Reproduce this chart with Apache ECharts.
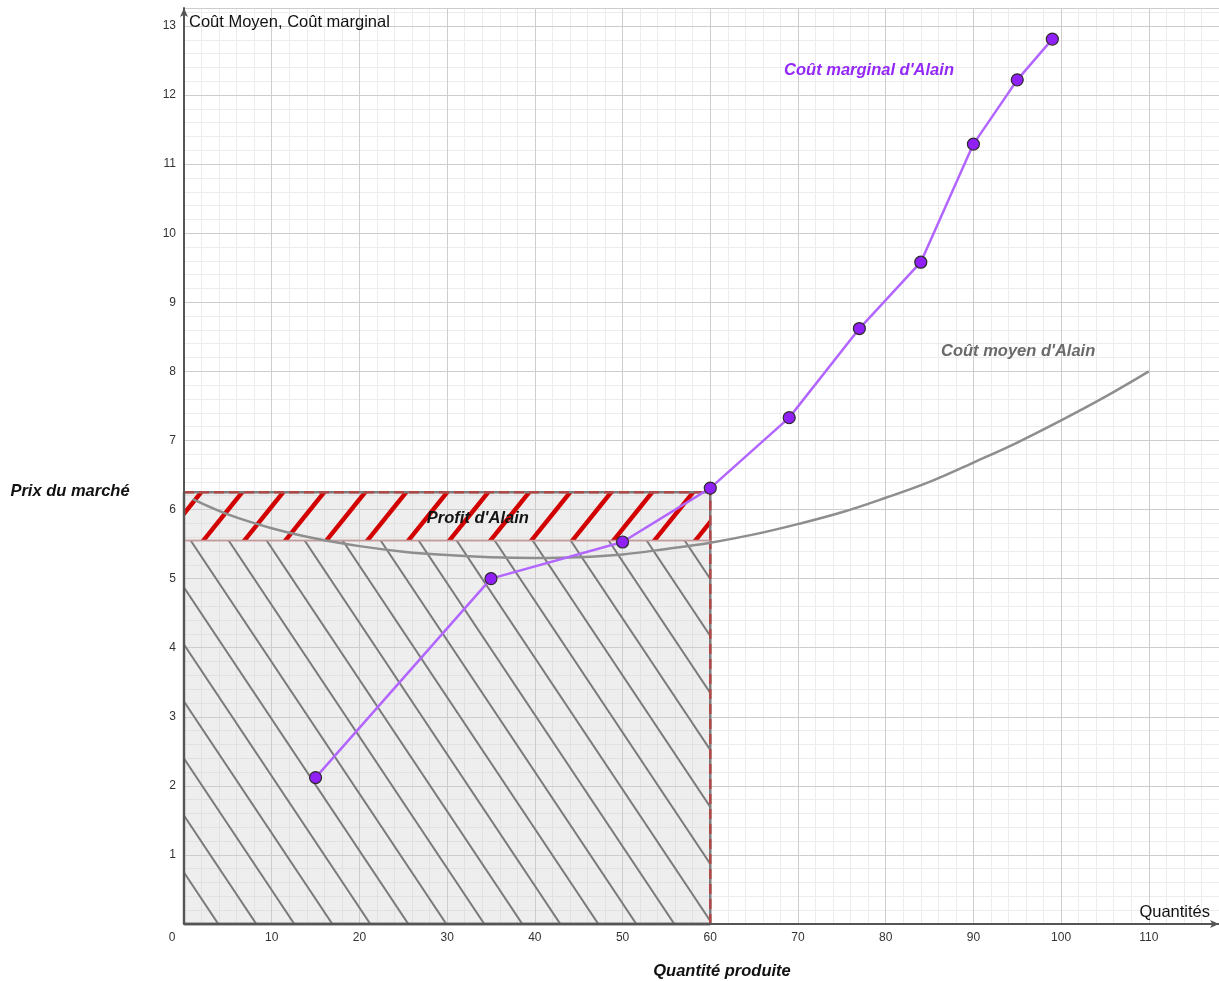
<!DOCTYPE html>
<html>
<head>
<meta charset="utf-8">
<script src="https://cdn.jsdelivr.net/npm/echarts@6/dist/echarts.min.js"></script>
<style>
html,body{margin:0;padding:0;background:#fff;}
#chart{width:1219px;height:981px;}
</style>
</head>
<body>
<div id="chart"></div>
<script>
// ---------- data ----------
const quantityProduced = 60;      // Quantité produite
const marketPrice = 6.25;         // Prix du marché
const avgCostAtQ = 5.55;          // Coût moyen à Q = 60

const mcQuantities = [15, 35, 50, 60, 69, 77, 84, 90, 95, 99];
const mcValues     = [2.12, 5.0, 5.53, 6.31, 7.33, 8.62, 9.58, 11.29, 12.22, 12.81];

const acQuantities = [1, 5, 10, 15, 20, 25, 30, 35, 40, 45, 50, 55, 60, 65, 70, 75, 80, 85, 90, 95, 100, 105, 110];
const acValues     = [6.15, 5.93, 5.73, 5.58, 5.47, 5.39, 5.34, 5.31, 5.30, 5.31, 5.35, 5.43, 5.52, 5.64, 5.79, 5.96, 6.17, 6.40, 6.68, 6.97, 7.29, 7.63, 8.0];

const xTickLabels = [0, 10, 20, 30, 40, 50, 60, 70, 80, 90, 100, 110];
const yTickLabels = [1, 2, 3, 4, 5, 6, 7, 8, 9, 10, 11, 12, 13];
const xMax = 118;
const yMax = 13.26;

const annotationTexts = ["Coût marginal d'Alain", "Coût moyen d'Alain", "Profit d'Alain"];
const annotationX     = [78.1, 95.1, 33.5];
const annotationY     = [12.36, 8.29, 5.87];

const yAxisTitle = 'Coût Moyen, Coût marginal';
const xAxisTitle = 'Quantités';
const leftTitle = 'Prix du marché';
const bottomTitle = 'Quantité produite';

// ---------- styles ----------
const FONT = '"Liberation Sans", Arial, Helvetica, sans-serif';
const annotationColors = ['#9428f7', '#6a6a6a', '#141414'];

function hatch(W, H, color, width, dir, offset) {
  const c = document.createElement('canvas');
  c.width = W; c.height = H;
  const ctx = c.getContext('2d');
  ctx.strokeStyle = color;
  ctx.lineWidth = width;
  for (let k = -2; k <= 2; k++) {
    const x0 = offset + k * W;
    ctx.beginPath();
    if (dir === 'back') { ctx.moveTo(x0 - W, -H); ctx.lineTo(x0 + 2 * W, 2 * H); }
    else { ctx.moveTo(x0 + W, -H); ctx.lineTo(x0 - 2 * W, 2 * H); }
    ctx.stroke();
  }
  return c;
}
const grayHatch = hatch(38, 57, '#7a7a7a', 2, 'back', 20.3);
const redHatch = hatch(41, 51, '#d30000', 4.5, 'fwd', 22.9);

function rectRenderer(pattern, opts) {
  return function (params, api) {
    const p0 = api.coord([api.value(0), api.value(1)]);
    const p1 = api.coord([api.value(2), api.value(3)]);
    const x = p0[0], yb = p0[1], x2 = p1[0], yt = p1[1];
    const shape = { x: x, y: yt, width: x2 - x, height: yb - yt };
    const children = [
      { type: 'rect', shape: shape, style: { fill: 'rgba(205,205,205,0.35)' } },
      { type: 'rect', shape: shape, style: { fill: { image: pattern, repeat: 'repeat' } } }
    ];
    children.push({ type: 'line', shape: { x1: x2, y1: yb, x2: x2, y2: yt }, style: { stroke: '#7d7d7d', lineWidth: 2.5 } });
    children.push({ type: 'line', shape: { x1: x2, y1: yb, x2: x2, y2: yt }, style: { stroke: '#b04848', lineWidth: 2.5, lineDash: [10, 5] } });
    if (opts.bottomThin) {
      children.push({ type: 'line', shape: { x1: x, y1: yb, x2: x2, y2: yb }, style: { stroke: '#c49b9b', lineWidth: 1.5 } });
    } else {
      children.push({ type: 'line', shape: { x1: x, y1: yb, x2: x2, y2: yb }, style: { stroke: '#707070', lineWidth: 3 } });
    }
    if (opts.topDashed) {
      children.push({ type: 'line', shape: { x1: x, y1: yt, x2: x2, y2: yt }, style: { stroke: '#7d7d7d', lineWidth: 2.5 } });
      children.push({ type: 'line', shape: { x1: x, y1: yt, x2: x2, y2: yt }, style: { stroke: '#b04848', lineWidth: 2.5, lineDash: [10, 5] } });
    } else {
      children.push({ type: 'line', shape: { x1: x, y1: yt, x2: x2, y2: yt }, style: { stroke: '#c49b9b', lineWidth: 1.5 } });
    }
    children.push({ type: 'line', shape: { x1: x, y1: yb, x2: x, y2: yt }, style: { stroke: '#707070', lineWidth: 2.5 } });
    return { type: 'group', children: children };
  };
}

const chart = echarts.init(document.getElementById('chart'), null, { renderer: 'canvas' });

const option = {
  animation: false,
  backgroundColor: '#ffffff',
  grid: { left: 184, right: 0, top: 8, bottom: 57, containLabel: false },
  xAxis: [
    {
      type: 'value', min: 0, max: xMax, interval: 10, position: 'bottom', z: 1,
      name: xAxisTitle, nameLocation: 'end', nameGap: -9,
      nameTextStyle: { fontFamily: FONT, fontSize: 16.5, color: '#111', align: 'right', verticalAlign: 'bottom', padding: [0, 0, 3, 0] },
      axisLine: { show: true, onZero: false, symbol: ['none', 'arrow'], symbolSize: [6, 9], lineStyle: { color: '#555', width: 2 } },
      axisTick: { show: false },
      axisLabel: {
        margin: 8, fontFamily: FONT, fontSize: 12, color: '#333', showMaxLabel: false,
        formatter: function (v) {
          if (v === 0) return '{o|0}';
          return xTickLabels.indexOf(v) >= 0 ? String(v) : '';
        },
        rich: { o: { fontFamily: FONT, fontSize: 12, color: '#333', padding: [0, 24, 0, 0] } }
      },
      splitLine: { show: true, lineStyle: { color: '#cdcdcd', width: 1 } }
    },
    {
      type: 'value', min: 0, max: xMax, interval: 2, position: 'bottom', z: 0,
      axisLine: { show: false }, axisTick: { show: false }, axisLabel: { show: false },
      splitLine: { show: true, lineStyle: { color: '#ececec', width: 1 } }
    }
  ],
  yAxis: [
    {
      type: 'value', min: 0, max: yMax, interval: 1, position: 'left', z: 1,
      name: yAxisTitle, nameLocation: 'end', nameGap: -6,
      nameTextStyle: { fontFamily: FONT, fontSize: 16.5, color: '#111', align: 'left', verticalAlign: 'top', padding: [0, 0, 0, 5] },
      axisLine: { show: true, onZero: false, symbol: ['none', 'arrow'], symbolSize: [6, 9], lineStyle: { color: '#555', width: 2 } },
      axisTick: { show: false },
      axisLabel: {
        margin: 8, fontFamily: FONT, fontSize: 12, color: '#333', showMaxLabel: false,
        formatter: function (v) { return yTickLabels.indexOf(v) >= 0 ? String(v) : ''; }
      },
      splitLine: { show: true, lineStyle: { color: '#cdcdcd', width: 1 } }
    },
    {
      type: 'value', min: 0, max: yMax, interval: 0.2, position: 'left', z: 0,
      axisLine: { show: false }, axisTick: { show: false }, axisLabel: { show: false },
      splitLine: { show: true, lineStyle: { color: '#ececec', width: 1 } }
    }
  ],
  series: [
    {
      name: 'Coût total',
      type: 'custom', xAxisIndex: 0, yAxisIndex: 0,
      renderItem: rectRenderer(grayHatch, { bottomThin: false, topDashed: false }),
      encode: { x: [0, 2], y: [1, 3] },
      data: [[0, 0, quantityProduced, avgCostAtQ]],
      silent: true, z: 1
    },
    {
      name: "Profit d'Alain",
      type: 'custom', xAxisIndex: 0, yAxisIndex: 0,
      renderItem: rectRenderer(redHatch, { bottomThin: true, topDashed: true }),
      encode: { x: [0, 2], y: [1, 3] },
      data: [[0, avgCostAtQ, quantityProduced, marketPrice]],
      silent: true, z: 1
    },
    {
      name: "Coût moyen d'Alain",
      type: 'line', xAxisIndex: 0, yAxisIndex: 0,
      data: acQuantities.map((q, i) => [q, acValues[i]]),
      smooth: 0.4, showSymbol: false, symbol: 'none',
      lineStyle: { color: '#8e8e8e', width: 2.5 },
      z: 3, silent: true
    },
    {
      name: "Coût marginal d'Alain",
      type: 'line', xAxisIndex: 0, yAxisIndex: 0,
      data: mcQuantities.map((q, i) => [q, mcValues[i]]),
      symbol: 'circle', symbolSize: 12, showSymbol: true,
      lineStyle: { color: '#b266ff', width: 2.5 },
      itemStyle: { color: '#9020f5', borderColor: '#2b2b2b', borderWidth: 1.2 },
      z: 4, silent: true
    },
    {
      name: 'annotations',
      type: 'scatter', xAxisIndex: 0, yAxisIndex: 0,
      symbolSize: 0, itemStyle: { color: '#000', opacity: 1 }, silent: true, z: 5,
      data: annotationTexts.map((t, i) => ({
        value: [annotationX[i], annotationY[i]],
        name: t,
        label: {
          show: true, position: 'inside', formatter: t, opacity: 1,
          textBorderWidth: 0, textShadowBlur: 0,
          fontFamily: FONT, fontSize: 16.5, fontStyle: 'italic', fontWeight: 'bold',
          color: annotationColors[i]
        }
      }))
    }
  ],
  graphic: [
    { type: 'text', x: 70, y: 491, silent: true,
      style: { text: leftTitle, font: 'italic bold 16.5px ' + FONT, fill: '#111', textAlign: 'center', textVerticalAlign: 'middle' } },
    { type: 'text', x: 722, y: 971, silent: true,
      style: { text: bottomTitle, font: 'italic bold 16.5px ' + FONT, fill: '#111', textAlign: 'center', textVerticalAlign: 'middle' } }
  ]
};
chart.setOption(option);
</script>
</body>
</html>
